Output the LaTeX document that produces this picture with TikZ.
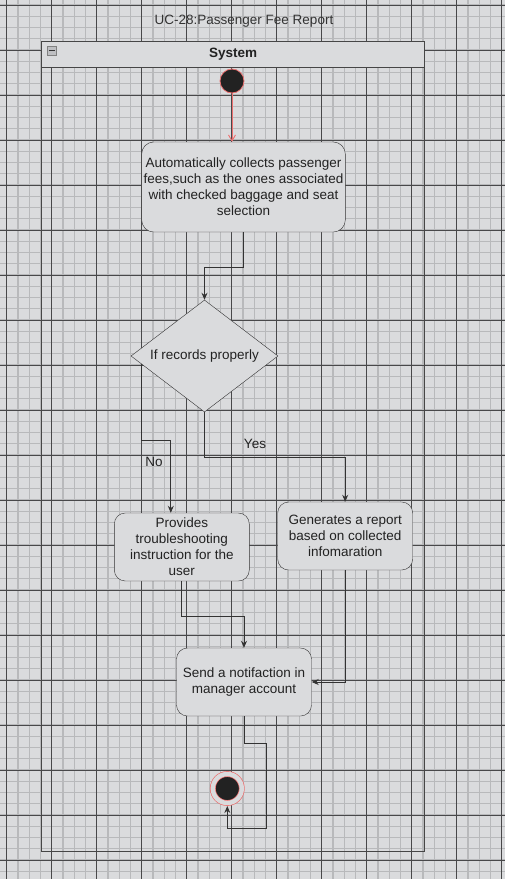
\documentclass[tikz,border=0pt]{standalone}
\usepackage{fontspec}
\setmainfont{Liberation Sans}
\usetikzlibrary{arrows.meta,positioning,shapes.geometric,calc}

\definecolor{canvas}{RGB}{218,219,221}
\definecolor{minorline}{RGB}{184,185,187}
\definecolor{majorline}{RGB}{72,72,74}
\definecolor{boxfill}{RGB}{218,219,221}
\definecolor{edge}{RGB}{51,51,51}
\definecolor{ink}{RGB}{34,34,34}
\definecolor{laneline}{RGB}{70,70,70}
\definecolor{foldfill}{RGB}{190,191,194}
\definecolor{startred}{RGB}{236,112,112}

\begin{document}
\begin{tikzpicture}[
    x=1pt, y=-1pt,
    font=\fontsize{13.5}{16}\selectfont,
    box/.style={draw=edge, fill=boxfill, rounded corners=11pt, align=center, text=ink, inner sep=2pt},
    decision/.style={diamond, aspect=1.3, draw=edge, fill=boxfill, text=ink, inner sep=0pt},
    minor/.style={draw=minorline, line width=1.3pt},
    major/.style={draw=majorline, line width=0.8pt},
    link/.style={-{Stealth[length=7pt,width=6pt]}, draw=edge, line width=0.9pt},
    startlink/.style={-{Straight Barb[length=6pt,width=7pt]}, draw=startred, line width=0.9pt},
    lbl/.style={text=ink, inner sep=0pt}
]
\useasboundingbox (0,0) rectangle (505,879);
\fill[canvas] (0,0) rectangle (505,879);
% grid
\foreach \i in {0,...,45} \draw[minor] ({-4.55+11.25*\i},0) -- ++(0,879);
\foreach \i in {0,...,79} \draw[minor] (0,{-6.25+11.25*\i}) -- ++(505,0);
\foreach \i in {0,...,11} \draw[major] ({6.7+45*\i},0) -- ++(0,879);
\foreach \i in {0,...,19} \draw[major] (0,{5+45*\i}) -- ++(505,0);

\node[text=edge] (title) at (244,21.5) {UC-28:Passenger Fee Report};

% swimlane
\node[draw=laneline, line width=1.2pt, anchor=north west, minimum width=383pt, minimum height=810pt] (pool) at (41,41) {};
\node[draw=laneline, fill=boxfill, line width=1.2pt, anchor=north west, minimum width=383pt, minimum height=26pt, font=\fontsize{13.5}{16}\selectfont\bfseries, text=ink] (lane) at (41,41) {System};
\node[draw=gray, fill=foldfill, minimum size=9pt, inner sep=0pt,
      path picture={\draw[edge, line width=0.9pt] ([xshift=1.5pt]path picture bounding box.west) -- ([xshift=-1.5pt]path picture bounding box.east);}] (fold) at (51.5,50.5) {};

% activity nodes
\node[circle, fill=ink, draw=startred, line width=0.8pt, minimum size=24pt, inner sep=0pt] (start) at (232,81) {};
\node[box, rounded corners=12pt, minimum width=203pt, minimum height=90pt] (collect) at (243.5,187) {Automatically collects passenger\\fees,such as the ones associated\\with checked baggage and seat\\selection};
\node[decision, minimum width=147pt, minimum height=112pt] (check) at (204.5,356) {If records properly};
\node[box, minimum width=135pt, minimum height=68pt] (trouble) at (181.8,547) {Provides\\troubleshooting\\instruction for the\\user};
\node[box, minimum width=135pt, minimum height=68pt] (report) at (345.2,536) {Generates a report\\based on collected\\infomaration};
\node[box, minimum width=135pt, minimum height=68pt] (notify) at (244,682) {Send a notifaction in\\manager account};
\node[circle, fill=ink, draw=startred, line width=0.7pt, double=canvas, double distance=4.4pt, minimum size=29pt, inner sep=0pt, outer sep=3pt] (stop) at (227.3,788.5) {};

\node[lbl] (nolbl) at (154,462) {No};
\node[lbl] (yeslbl) at (255,444) {Yes};

% connectors
\coordinate (nofrom) at ($(check.west)!0.15!(check.south)$);
\draw[startlink] (start) -- (start |- collect.north);
\draw[link] (collect.south) -- ++(0,35) -| (check.north);
\draw[link] (nofrom) -- ++(0,76.5) -| ([xshift=-11pt]trouble.north);
\draw[link] (check.south) -- ++(0,45) -| (report.north);
\draw[link] (trouble.south) -- ++(0,35) -| (notify.north);
\draw[link] (report.south) |- (notify.east);
\draw[link] (notify.south) -- ++(0,27) -- ++(22.7,0) -- ++(0,85) -| (stop.south);
\end{tikzpicture}
\end{document}
